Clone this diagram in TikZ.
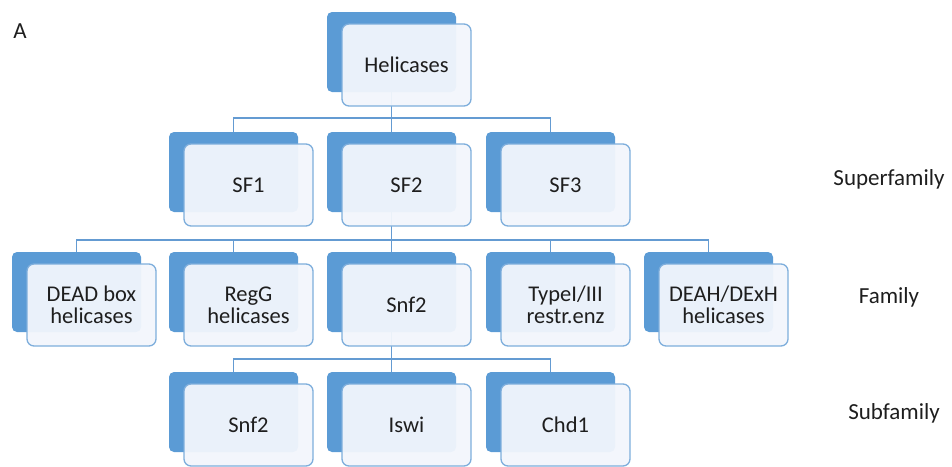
\documentclass[tikz,border=0pt]{standalone}
\usepackage{fontspec}
\setmainfont{Carlito}
\usetikzlibrary{backgrounds}
\definecolor{boxblue}{RGB}{91,155,213}
\definecolor{edgeblue}{RGB}{126,174,220}
\definecolor{frontfill}{RGB}{242,246,252}
\definecolor{linkblue}{RGB}{100,155,210}
\definecolor{txt}{RGB}{30,30,30}
\newcommand\hbx[4]{%
  \node[backbox] (#1b) at (#2+64.5,#3+40) {};
  \node[frontbox] (#1) at (#2+79.5,#3+53) {#4};}
\begin{document}
\begin{tikzpicture}[x=1pt,y=-1pt,
  backbox/.style={fill=boxblue, rounded corners=5pt, minimum width=129pt, minimum height=80pt, inner sep=0pt, outer sep=0pt},
  frontbox/.style={fill=frontfill, fill opacity=0.95, text opacity=1, draw=edgeblue, line width=1.3pt, rounded corners=7pt, minimum width=129pt, minimum height=82pt, inner sep=0pt, outer sep=0pt, align=center, text=txt, font=\fontsize{22.5}{22}\selectfont},
  link/.style={draw=linkblue, line width=1.2pt},
  lbl/.style={text=txt, font=\fontsize{23}{24}\selectfont, inner sep=0pt}]
\path[use as bounding box] (0,0) rectangle (952,466);
\hbx{hel}{327}{12}{Helicases}
\hbx{sfa}{169}{132}{SF1}
\hbx{sfb}{327}{132}{SF2}
\hbx{sfc}{486}{132}{SF3}
\hbx{dead}{12}{252}{DEAD box\\helicases}
\hbx{regg}{169}{252}{RegG\\helicases}
\hbx{snf}{327}{252}{Snf2}
\hbx{typ}{486}{252}{TypeI/III\\restr.enz}
\hbx{deah}{644}{252}{DEAH/DExH\\helicases}
\hbx{ssnf}{169}{372}{Snf2}
\hbx{iswi}{327}{372}{Iswi}
\hbx{chd}{486}{372}{Chd1}
\coordinate (busa) at (0,118);
\coordinate (busb) at (0,240);
\coordinate (busc) at (0,359);
\begin{pgfonlayer}{background}
\draw[link] (helb.south) -- (sfbb.north);
\draw[link] (sfab.north) -- (sfab.north |- busa) -- (sfcb.north |- busa) -- (sfcb.north);
\draw[link] (sfbb.south) -- (snfb.north);
\draw[link] (deadb.north) -- (deadb.north |- busb) -- (deahb.north |- busb) -- (deahb.north);
\draw[link] (reggb.north) -- (reggb.north |- busb);
\draw[link] (typb.north) -- (typb.north |- busb);
\draw[link] (snfb.south) -- (iswib.north);
\draw[link] (ssnfb.north) -- (ssnfb.north |- busc) -- (chdb.north |- busc) -- (chdb.north);
\end{pgfonlayer}
\node[lbl] (la) at (20,31) {A};
\node[lbl] (lsup) at (889,179) {Superfamily};
\node[lbl] (lfam) at (889,297) {Family};
\node[lbl] (lsub) at (894,413) {Subfamily};
\end{tikzpicture}
\end{document}
